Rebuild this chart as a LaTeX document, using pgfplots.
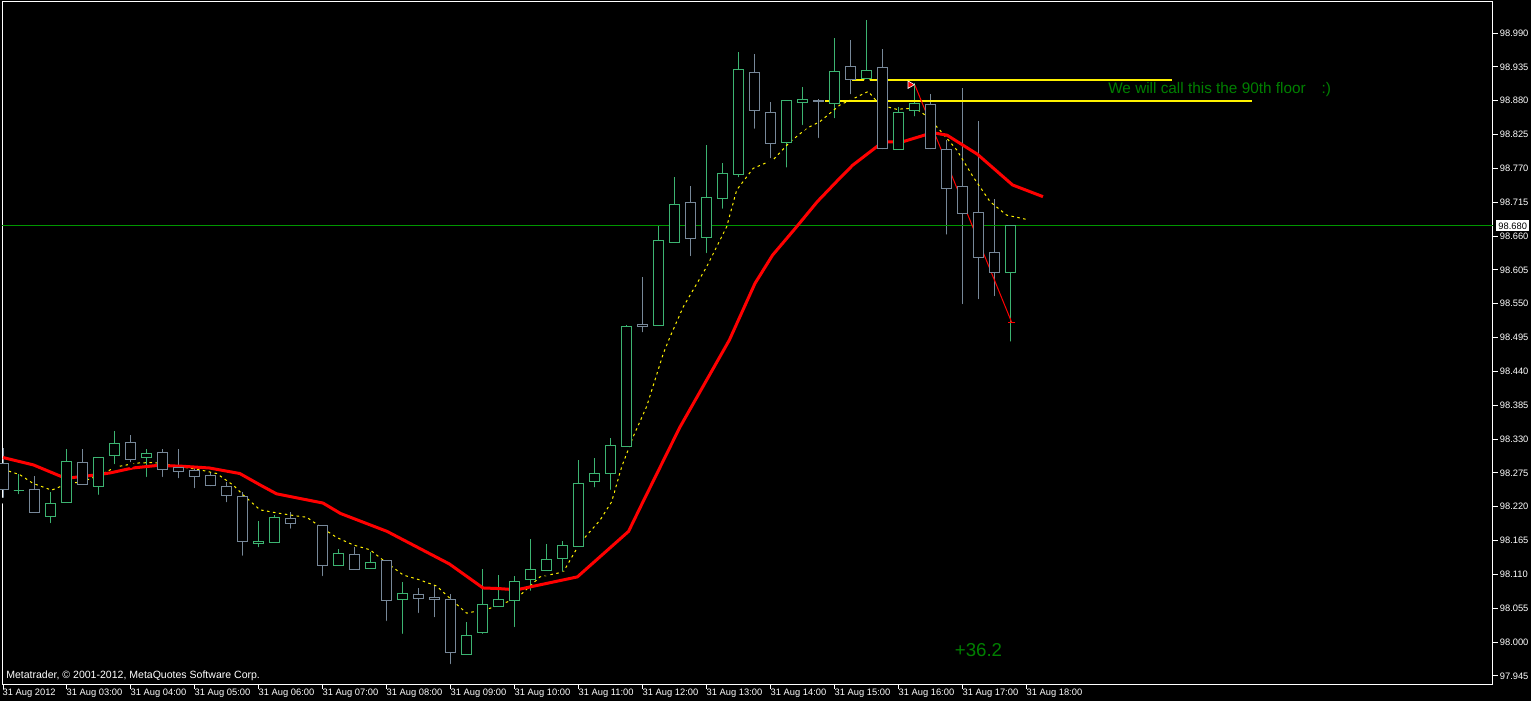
\documentclass[border=0pt]{standalone}
\usepackage{pgfplots}
\usepackage{pgfplotstable}
\pgfplotsset{compat=1.18}
\usetikzlibrary{backgrounds}
\usepackage{fontspec}
\setmainfont{Liberation Sans}

\definecolor{bullc}{RGB}{60,179,113}
\definecolor{bearc}{RGB}{119,136,153}
\definecolor{dkgreen}{RGB}{0,128,0}
\definecolor{lngreen}{RGB}{0,150,0}

% hollow candle bodies, height \bh (pt) set per point
\pgfdeclareplotmark{cbull}{%
  \pgfsetlinewidth{0.75pt}%
  \pgfsetcolor{black}%
  \pgfpathrectanglecorners{\pgfpoint{-3.75pt}{-0.5*\bh pt}}{\pgfpoint{3.75pt}{0.5*\bh pt}}%
  \pgfusepathqfill
  \pgfsetcolor{bullc}%
  \pgfpathrectanglecorners{\pgfpoint{-3.75pt}{-0.5*\bh pt}}{\pgfpoint{3.75pt}{0.5*\bh pt}}%
  \pgfusepathqstroke}
\pgfdeclareplotmark{cbear}{%
  \pgfsetlinewidth{0.75pt}%
  \pgfsetcolor{black}%
  \pgfpathrectanglecorners{\pgfpoint{-3.75pt}{-0.5*\bh pt}}{\pgfpoint{3.75pt}{0.5*\bh pt}}%
  \pgfusepathqfill
  \pgfsetcolor{bearc}%
  \pgfpathrectanglecorners{\pgfpoint{-3.75pt}{-0.5*\bh pt}}{\pgfpoint{3.75pt}{0.5*\bh pt}}%
  \pgfusepathqstroke}

% i open high low close
\pgfplotstableread{
i  o      h      l      c
1  98.246 98.273 98.236 98.246
3  98.204 98.244 98.189 98.226
4  98.227 98.314 98.224 98.294
6  98.253 98.300 98.235 98.300
7  98.304 98.343 98.285 98.323
9  98.300 98.314 98.264 98.307
16 98.161 98.197 98.150 98.164
17 98.162 98.207 98.161 98.203
21 98.124 98.152 98.121 98.144
23 98.119 98.146 98.117 98.130
25 98.070 98.097 98.009 98.079
29 97.980 98.032 97.976 98.010
30 98.015 98.119 98.009 98.061
31 98.058 98.109 98.053 98.070
32 98.067 98.107 98.020 98.099
33 98.102 98.168 98.079 98.118
34 98.116 98.160 98.112 98.135
35 98.136 98.164 98.110 98.157
36 98.155 98.296 98.155 98.258
37 98.261 98.300 98.247 98.274
38 98.274 98.332 98.243 98.320
39 98.318 98.515 98.318 98.513
41 98.514 98.678 98.514 98.653
42 98.649 98.756 98.647 98.712
44 98.657 98.808 98.628 98.723
45 98.721 98.778 98.700 98.762
46 98.760 98.959 98.751 98.930
49 98.812 98.880 98.767 98.880
50 98.877 98.903 98.836 98.882
52 98.876 98.982 98.847 98.927
54 98.916 99.011 98.912 98.929
56 98.801 98.869 98.801 98.861
57 98.864 98.908 98.850 98.876
63 98.601 98.677 98.484 98.677
}\bulldata

\pgfplotstableread{
i  o      h      l      c
0  98.291 98.315 98.230 98.248
2  98.248 98.270 98.207 98.210
5  98.292 98.314 98.255 98.256
8  98.325 98.336 98.288 98.297
10 98.309 98.314 98.264 98.281
11 98.283 98.314 98.262 98.277
12 98.279 98.285 98.246 98.269
13 98.270 98.276 98.249 98.254
14 98.253 98.261 98.223 98.238
15 98.237 98.244 98.136 98.163
18 98.201 98.211 98.180 98.193
20 98.190 98.190 98.103 98.124
22 98.143 98.155 98.113 98.118
24 98.133 98.133 98.030 98.068
26 98.078 98.088 98.043 98.071
27 98.073 98.093 98.036 98.070
28 98.070 98.079 97.960 97.983
40 98.517 98.594 98.499 98.513
43 98.714 98.742 98.623 98.656
47 98.925 98.956 98.830 98.864
48 98.861 98.878 98.782 98.811
51 98.881 98.883 98.815 98.878
53 98.935 98.979 98.886 98.914
55 98.934 98.964 98.797 98.803
58 98.874 98.891 98.797 98.803
59 98.801 98.816 98.658 98.738
60 98.741 98.901 98.545 98.697
61 98.699 98.847 98.553 98.625
62 98.634 98.720 98.558 98.601
}\beardata

\pgfplotsset{
  wick/.style={only marks, mark=none, error bars/.cd, y dir=plus, y explicit,
    error mark=none, error bar style={#1, line width=0.75pt}},
  body/.style={scatter, only marks, mark=c#1, color=#1c,
    scatter/@pre marker code/.code={\pgfscope},
    scatter/@post marker code/.code={\endpgfscope},
    visualization depends on={abs(\thisrow{c}-\thisrow{o})*461.43 \as \bh}},
}

\begin{document}
\begin{tikzpicture}[x=0.75pt,y=0.75pt]
\begin{axis}[
  scale only axis, width=1118.25pt, height=511.5pt,
  xmin=-0.0625, xmax=93.125, ymin=97.9319, ymax=99.0404,
  axis line style={white, line width=0.75pt},
  axis background/.style={fill=black},
  xtick pos=bottom, ytick pos=right, yticklabel pos=right,
  tick align=outside, major tick length=3.5pt,
  tick style={white, line width=0.75pt},
  ytick={97.945,98.000,98.055,98.110,98.165,98.220,98.275,98.330,98.385,98.440,98.495,98.550,98.605,98.660,98.715,98.770,98.825,98.880,98.935,98.990},
  yticklabels={97.945,98.000,98.055,98.110,98.165,98.220,98.275,98.330,98.385,98.440,98.495,98.550,98.605,98.660,98.715,98.770,98.825,98.880,98.935,98.990},
  xtick={0,4,...,64},
  xticklabels={31 Aug 2012,31 Aug 03:00,31 Aug 04:00,31 Aug 05:00,31 Aug 06:00,31 Aug 07:00,31 Aug 08:00,31 Aug 09:00,31 Aug 10:00,31 Aug 11:00,31 Aug 12:00,31 Aug 13:00,31 Aug 14:00,31 Aug 15:00,31 Aug 16:00,31 Aug 17:00,31 Aug 18:00},
  every tick label/.append style={white, font=\fontsize{7}{8}\selectfont},
  yticklabel style={anchor=west, inner sep=0pt, xshift=1.5pt},
  xticklabel style={anchor=north west, inner sep=0pt, xshift=-0.4pt},
]
\coordinate (P) at (rel axis cs:0,0);
% candles: wicks first, hollow bodies on top
\addplot[wick=bullc] table[x=i, y=l, y error expr=\thisrow{h}-\thisrow{l}] {\bulldata};
\addplot[wick=bearc] table[x=i, y=l, y error expr=\thisrow{h}-\thisrow{l}] {\beardata};
\addplot[body=bull] table[x=i, y expr=0.5*(\thisrow{o}+\thisrow{c})] {\bulldata};
\addplot[body=bear] table[x=i, y expr=0.5*(\thisrow{o}+\thisrow{c})] {\beardata};

% current price line
\addplot[lngreen, line width=0.75pt] coordinates {(-1,98.677) (95,98.677)};

% fast MA (dotted yellow)
\addplot[yellow, line width=0.75pt, dash pattern=on 1.9pt off 2.6pt] coordinates {
(0,98.281) (1.06,98.272) (1.875,98.258) (3.04,98.247) (3.98,98.257) (5.02,98.261)
(6.06,98.272) (7.11,98.285) (8.36,98.291) (9.39,98.292) (10.64,98.287) (12.31,98.280)
(13.36,98.274) (14.39,98.255) (15.02,98.239) (16.06,98.215) (17.11,98.210) (18.36,98.205)
(18.98,98.203) (19.81,98.188) (20.86,98.170) (21.89,98.158) (22.94,98.150) (23.77,98.133)
(25.02,98.109) (26.06,98.101) (27.11,98.091) (27.94,98.071) (28.98,98.047) (30.44,98.055)
(32.11,98.071) (33.56,98.106) (35.02,98.114) (36.06,98.161) (37.31,98.198) (38.04,98.228)
(38.67,98.285) (39.39,98.334) (40.23,98.383) (41.27,98.469) (41.69,98.496) (42.52,98.545)
(43.98,98.610) (45.23,98.675) (45.86,98.735) (46.89,98.770) (48.14,98.784) (49.19,98.813)
(50.23,98.835) (51.06,98.846) (52.31,98.873) (53.36,98.886) (54.08,98.895) (54.81,98.873)
(55.86,98.866) (57.0,98.868) (57.73,98.855) (58.56,98.832) (59.61,98.800) (60.64,98.756)
(61.69,98.716) (62.73,98.694) (63.98,98.687)};

% slow MA (thick red)
\addplot[red, line width=2.25pt, line join=round] coordinates {
(0,98.300) (1.9,98.288) (3.75,98.268) (4.2,98.267) (5.9,98.272) (6.7,98.275) (8.1,98.283)
(9.6,98.287) (11.1,98.286) (12.9,98.283) (14.8,98.274) (16.1,98.255) (17.1,98.241)
(20,98.226) (21.1,98.209) (24,98.180) (27.9,98.127) (30,98.088) (31,98.087) (32.1,98.085)
(35.9,98.106) (39.1,98.180) (40,98.228) (42.3,98.349) (45.4,98.491) (47,98.583)
(48.1,98.629) (49.6,98.675) (50.9,98.716) (52.3,98.754) (53.1,98.775) (55,98.813)
(56.2,98.813) (58.1,98.828) (59,98.824) (60.9,98.793) (63.1,98.743) (65,98.724)};

% horizontal levels
\addplot[yellow, line width=1.5pt] coordinates {(53.06,98.914) (73.06,98.914)};
\addplot[yellow, line width=1.5pt] coordinates {(51.4,98.880) (78.06,98.880)};

% trend line with markers
\addplot[red, line width=0.75pt] coordinates {(57.0,98.905) (63.04,98.520)};
\addplot[red, line width=0.75pt, only marks, mark=-, mark size=2.75pt] coordinates {(63.04,98.520)};
\addplot[only marks, mark=triangle*, mark size=3.2pt, mark options={rotate=-90, fill=red, draw=white, line width=0.45pt}] coordinates {(56.7,98.906)};
\end{axis}

\coordinate (O) at ([shift={(-2,-17)}]P);
\begin{scope}[on background layer]
\fill[black] (O) rectangle ([shift={(1531,701)}]O);
\end{scope}

\node[anchor=west, fill=white, text=black, inner xsep=1.6pt, inner ysep=0pt, minimum height=8.25pt, font=\fontsize{7}{8}\selectfont] at ([shift={(1496,475)}]O) {98.680};
\node[anchor=west, white, inner sep=0pt, font=\fontsize{7.9}{9}\selectfont] at ([shift={(6,25)}]O) {Metatrader, © 2001-2012, MetaQuotes Software Corp.};
\node[anchor=west, dkgreen, inner sep=0pt, font=\fontsize{11.5}{13}\selectfont] at ([shift={(1108,611)}]O) {We will call this the 90th floor\hspace{12pt}:)};
\node[dkgreen, inner sep=0pt, font=\fontsize{14}{16}\selectfont] at ([shift={(978.5,51)}]O) {+36.2};

\pgfresetboundingbox
\path[use as bounding box] (O) rectangle ([shift={(1531,701)}]O);
\end{tikzpicture}
\end{document}
